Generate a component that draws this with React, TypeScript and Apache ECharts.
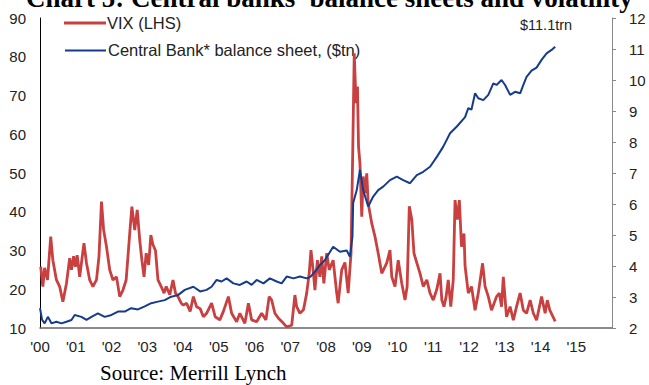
import React, { useEffect, useRef } from "react";
import * as echarts from "echarts";

// VIX (left axis) — [fractional year, value]
const vixDates = [
  2000.02, 2000.08, 2000.13, 2000.21, 2000.3, 2000.36, 2000.46, 2000.55, 2000.64, 2000.74,
  2000.83, 2000.88, 2000.94, 2000.99, 2001.04, 2001.11, 2001.23, 2001.3, 2001.39, 2001.48,
  2001.58, 2001.65, 2001.72, 2001.78, 2001.86, 2001.95, 2002.04, 2002.14, 2002.23, 2002.32,
  2002.41, 2002.51, 2002.57, 2002.65, 2002.72, 2002.79, 2002.85, 2002.91, 2002.97, 2003.04,
  2003.1, 2003.16, 2003.23, 2003.3, 2003.39, 2003.47, 2003.53, 2003.63, 2003.72, 2003.79,
  2003.86, 2003.95, 2004.01, 2004.1, 2004.2, 2004.29, 2004.38, 2004.48, 2004.57, 2004.66,
  2004.8, 2004.9, 2005.03, 2005.13, 2005.27, 2005.36, 2005.5, 2005.59, 2005.73, 2005.83,
  2005.92, 2006.06, 2006.2, 2006.32, 2006.41, 2006.48, 2006.57, 2006.67, 2006.81, 2006.9,
  2007.04, 2007.13, 2007.18, 2007.27, 2007.37, 2007.46, 2007.53, 2007.58, 2007.65, 2007.69,
  2007.76, 2007.83, 2007.88, 2007.94, 2008.02, 2008.09, 2008.2, 2008.3, 2008.34, 2008.44,
  2008.53, 2008.62, 2008.7, 2008.75, 2008.79, 2008.84, 2008.88, 2008.91, 2008.95, 2009.0,
  2009.04, 2009.09, 2009.14, 2009.18, 2009.28, 2009.37, 2009.46, 2009.56, 2009.7, 2009.79,
  2009.84, 2009.93, 2010.02, 2010.12, 2010.21, 2010.27, 2010.33, 2010.4, 2010.46, 2010.54,
  2010.63, 2010.72, 2010.82, 2010.91, 2011.0, 2011.1, 2011.19, 2011.24, 2011.3, 2011.36,
  2011.42, 2011.49, 2011.56, 2011.61, 2011.67, 2011.73, 2011.79, 2011.86, 2011.89, 2011.98,
  2012.07, 2012.17, 2012.26, 2012.38, 2012.45, 2012.54, 2012.63, 2012.77, 2012.85, 2012.91,
  2012.96, 2013.05, 2013.15, 2013.24, 2013.33, 2013.43, 2013.52, 2013.61, 2013.71, 2013.8,
  2013.89, 2014.03, 2014.13, 2014.19, 2014.26, 2014.35, 2014.41,
];
const vixValues = [
  25.8, 20.7, 25.5, 22.4, 33.6, 27.5, 22.4, 20.7, 16.8, 21.5,
  28, 25, 28.5, 25.8, 28.8, 23.2, 31.9, 26.8, 22.4, 20.7,
  22.4, 28.5, 42.6, 35.3, 31, 25, 22.4, 23.2, 18.1, 19.8,
  22.4, 34.4, 41.3, 35.3, 40.5, 32.7, 27.5, 23.2, 29.3, 26.3,
  34, 31.5, 30, 22.4, 20.7, 19, 20.7, 18.6, 22.4, 19,
  18.1, 16.4, 15.9, 16.4, 14.3, 18.1, 15.5, 15, 12.9, 13.8,
  16.4, 12.9, 12.1, 14.3, 18.1, 13.8, 11.6, 13.8, 11.2, 16.4,
  12.1, 11.6, 13.8, 12.1, 18.1, 17.2, 13.8, 12.5, 11.2, 10.3,
  10.7, 18.5, 15.5, 13.8, 14.7, 19, 24.1, 30.1, 24.1, 19.8,
  27.5, 23.2, 28.5, 21.5, 29.3, 25, 27.5, 19, 16.4, 25,
  26.9, 19, 29.3, 56.8, 80.9, 68, 72.3, 56.8, 52.5, 38.7,
  49.1, 44.8, 49.9, 42.2, 37, 33.6, 29.3, 24.1, 26.8, 30.1,
  23.2, 20.7, 27.5, 21.5, 17.2, 20.7, 41.4, 38, 29.3, 26.8,
  24.1, 20.7, 22.4, 19, 17.2, 20, 24.1, 17.2, 15.5, 18.1,
  22.4, 15.5, 22.4, 43, 38, 43, 31, 34.4, 26, 19,
  20.7, 14.6, 19, 26.7, 20.7, 18.1, 14.6, 18.1, 19, 15.5,
  23.2, 12.9, 15.5, 12, 15.5, 19, 14.6, 13.8, 17.2, 13.8,
  12, 18.1, 13.8, 17.2, 14.6, 12.9, 11.7,
];

// Central bank balance sheet, $tn (right axis)
const cbDates = [
  2000.0, 2000.06, 2000.13, 2000.22, 2000.32, 2000.46, 2000.6, 2000.74, 2000.88, 2000.97,
  2001.16, 2001.3, 2001.44, 2001.62, 2001.81, 2002.0, 2002.18, 2002.37, 2002.55, 2002.74,
  2002.93, 2003.11, 2003.3, 2003.49, 2003.67, 2003.86, 2004.05, 2004.29, 2004.48, 2004.66,
  2004.8, 2004.94, 2005.08, 2005.22, 2005.41, 2005.59, 2005.78, 2005.92, 2006.06, 2006.25,
  2006.43, 2006.62, 2006.76, 2006.9, 2007.09, 2007.27, 2007.46, 2007.57, 2007.69, 2007.83,
  2007.97, 2008.2, 2008.39, 2008.58, 2008.67, 2008.74, 2008.76, 2008.86, 2008.95, 2009.04,
  2009.18, 2009.32, 2009.46, 2009.6, 2009.79, 2009.98, 2010.16, 2010.35, 2010.54, 2010.72,
  2010.91, 2011.1, 2011.28, 2011.47, 2011.66, 2011.89, 2011.98, 2012.07, 2012.17, 2012.26,
  2012.4, 2012.54, 2012.68, 2012.77, 2012.91, 2013.01, 2013.15, 2013.29, 2013.43, 2013.52,
  2013.61, 2013.75, 2013.89, 2014.03, 2014.17, 2014.31, 2014.41,
];
const cbValues = [
  2.64, 2.26, 2.15, 2.36, 2.15, 2.2, 2.15, 2.2, 2.26, 2.42,
  2.36, 2.26, 2.36, 2.47, 2.36, 2.42, 2.53, 2.53, 2.64, 2.6,
  2.7, 2.8, 2.85, 2.9, 3.01, 3.06, 3.23, 3.33, 3.18, 3.23,
  3.33, 3.55, 3.5, 3.6, 3.44, 3.39, 3.5, 3.39, 3.55, 3.44,
  3.6, 3.5, 3.44, 3.66, 3.6, 3.66, 3.6, 3.66, 3.82, 4.03,
  4.19, 4.62, 4.46, 4.5, 4.3, 4.95, 6.03, 6.45, 7.1, 6.45,
  5.92, 6.24, 6.45, 6.56, 6.77, 6.88, 6.77, 6.67, 6.93, 7.04,
  7.2, 7.52, 7.85, 8.28, 8.5, 8.8, 9.09, 9.05, 9.57, 9.41,
  9.35, 9.52, 9.89, 9.84, 10.0, 9.84, 9.52, 9.62, 9.57, 9.84,
  10.1, 10.3, 10.4, 10.65, 10.86, 10.97, 11.07,
];

const leftTicks = { min: 10, max: 90, interval: 10 };
const rightTicks = { min: 2, max: 12, interval: 1 };
const yearRange = { min: 2000, max: 2016 };

const titleText = "Chart 5: Central banks' balance sheets and volatility";
const sourceText = "Source: Merrill Lynch";
const vixName = "VIX (LHS)";
const cbName = "Central Bank* balance sheet, ($tn)";
const endNote = "$11.1trn";

const RED = "#c8403f";
const BLUE = "#173b8c";
const SANS = "'Liberation Sans', Arial, sans-serif";
const SERIF = "'Liberation Serif', 'Times New Roman', serif";

export default function App() {
  const ref = useRef<HTMLDivElement>(null);
  useEffect(() => {
    if (!ref.current) return;
    const chart = echarts.init(ref.current, undefined, { renderer: "svg" });
    const vixData = vixDates.map((d, i) => [d, vixValues[i]]);
    const cbData = cbDates.map((d, i) => [d, cbValues[i]]);
    chart.setOption({
      animation: false,
      backgroundColor: "#ffffff",
      grid: { left: 40, right: 37, top: 18, bottom: 57 },
      xAxis: {
        type: "value",
        min: yearRange.min,
        max: yearRange.max,
        interval: 1,
        axisLine: { show: true, lineStyle: { color: "#666", width: 1.5 } },
        axisTick: { show: false },
        splitLine: { show: false },
        axisLabel: {
          showMaxLabel: false,
          margin: 11,
          color: "#222",
          fontFamily: SANS,
          fontSize: 15,
          formatter: (v: number) => "'" + String(v).slice(2),
        },
      },
      yAxis: [
        {
          type: "value",
          position: "left",
          min: leftTicks.min,
          max: leftTicks.max,
          interval: leftTicks.interval,
          axisLine: { show: true, lineStyle: { color: "#000", width: 1 } },
          axisTick: { show: false },
          splitLine: { show: false },
          axisLabel: { margin: 14, color: "#222", fontFamily: SANS, fontSize: 15 },
        },
        {
          type: "value",
          position: "right",
          min: rightTicks.min,
          max: rightTicks.max,
          interval: rightTicks.interval,
          axisLine: { show: true, lineStyle: { color: "#888", width: 1 } },
          axisTick: { show: true, length: 4, lineStyle: { color: "#888" } },
          splitLine: { show: false },
          axisLabel: { margin: 17, color: "#222", fontFamily: SANS, fontSize: 15 },
        },
      ],
      series: [
        {
          name: vixName,
          type: "line",
          yAxisIndex: 0,
          data: vixData,
          showSymbol: false,
          lineStyle: { color: RED, width: 2.8 },
          z: 2,
        },
        {
          name: cbName,
          type: "line",
          yAxisIndex: 1,
          data: cbData,
          showSymbol: false,
          lineStyle: { color: BLUE, width: 2 },
          z: 3,
        },
      ],
      graphic: [
        {
          type: "text",
          left: 26,
          top: -16,
          style: { text: titleText, font: `bold 27px ${SERIF}`, fill: "#000" },
        },
        {
          type: "line",
          shape: { x1: 64, y1: 23, x2: 106, y2: 23 },
          style: { stroke: RED, lineWidth: 3 },
        },
        {
          type: "text",
          x: 107,
          y: 23,
          style: { text: vixName, font: `16.5px ${SANS}`, fill: "#222", verticalAlign: "middle" },
        },
        {
          type: "line",
          shape: { x1: 65, y1: 50.5, x2: 106, y2: 50.5 },
          style: { stroke: BLUE, lineWidth: 2 },
        },
        {
          type: "text",
          x: 108,
          y: 50,
          style: { text: cbName, font: `16.5px ${SANS}`, fill: "#222", verticalAlign: "middle" },
        },
        {
          type: "text",
          left: 520,
          top: 17,
          style: { text: endNote, font: `14.5px ${SANS}`, fill: "#222" },
        },
        {
          type: "text",
          left: 100,
          top: 362,
          style: { text: sourceText, font: `21px ${SERIF}`, fill: "#000" },
        },
      ],
    });
    return () => chart.dispose();
  }, []);
  return (
    <div
      ref={ref}
      style={{ position: "absolute", left: 0, top: 0, width: 649, height: 385 }}
    />
  );
}
